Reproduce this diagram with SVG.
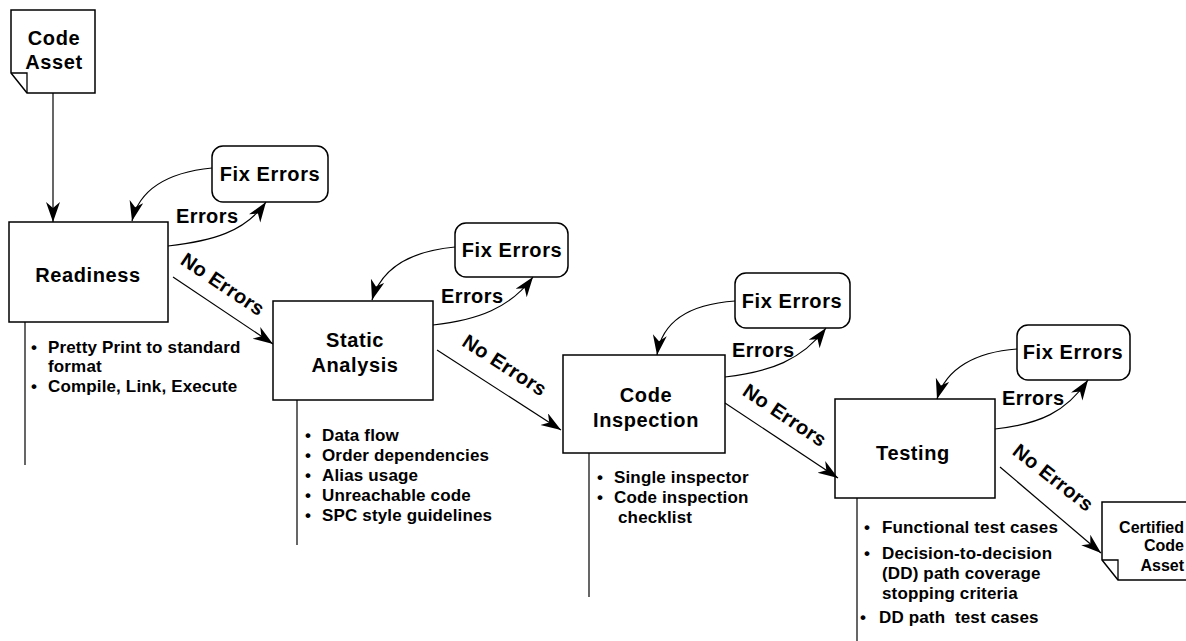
<svg xmlns="http://www.w3.org/2000/svg" width="1186" height="641" viewBox="0 0 1186 641">
  <style>
    .box { fill: #fff; stroke: #000; stroke-width: 1.5; }
    .fold { fill: none; stroke: #000; stroke-width: 1.3; }
    .conn { fill: none; stroke: #000; stroke-width: 1.2; }
    .lead { fill: none; stroke: #000; stroke-width: 1.2; }
    .t { font-family: "Liberation Sans", Arial, sans-serif; font-weight: bold; fill: #000; }
    .title { font-size: 20px; text-anchor: middle; letter-spacing: 0.6px; }
    .lbl { font-size: 20px; letter-spacing: 0.4px; }
    .note { font-size: 17px; letter-spacing: 0.15px; white-space: pre; }
    .doc { font-size: 16px; text-anchor: end; }
  </style>
  <defs>
    <marker id="arrow" markerUnits="userSpaceOnUse" markerWidth="22" markerHeight="16" refX="20" refY="7" orient="auto">
      <path d="M0,0 L20,7 L0,14 L6,7 Z" fill="#000"/>
    </marker>
  </defs>

  <!-- source document -->
  <g id="code-asset">
    <path class="box" d="M11,10 H95 V93 H27 L11,73 Z"/>
    <path class="fold" d="M11,73 H27 V93"/>
    <text class="t title" x="54" y="45">Code</text>
    <text class="t title" x="54" y="69">Asset</text>
  </g>

  <!-- stage 1 -->
  <g id="readiness">
    <rect class="box" x="9" y="222" width="159" height="100"/>
    <text class="t title" x="88" y="282">Readiness</text>
  </g>
  <g id="fix-errors-1">
    <rect class="box" x="212" y="146" width="116" height="56" rx="11"/>
    <text class="t title" x="270" y="181">Fix Errors</text>
  </g>
  <g id="readiness-notes">
    <path class="lead" d="M25,322 V465"/>
    <text class="t note" x="31" y="353">•</text>
    <text class="t note" x="48" y="353">Pretty Print to standard</text>
    <text class="t note" x="48" y="372">format</text>
    <text class="t note" x="31" y="392">•</text>
    <text class="t note" x="48" y="392">Compile, Link, Execute</text>
  </g>

  <!-- stage 2 -->
  <g id="static-analysis">
    <rect class="box" x="273" y="301" width="160" height="99"/>
    <text class="t title" x="355" y="347">Static</text>
    <text class="t title" x="355" y="372">Analysis</text>
  </g>
  <g id="fix-errors-2">
    <rect class="box" x="455" y="223" width="113" height="54" rx="11"/>
    <text class="t title" x="512" y="257">Fix Errors</text>
  </g>
  <g id="static-analysis-notes">
    <path class="lead" d="M297,400 V545"/>
    <text class="t note" x="305" y="441">•</text>
    <text class="t note" x="322" y="441">Data flow</text>
    <text class="t note" x="305" y="461">•</text>
    <text class="t note" x="322" y="461">Order dependencies</text>
    <text class="t note" x="305" y="481">•</text>
    <text class="t note" x="322" y="481">Alias usage</text>
    <text class="t note" x="305" y="501">•</text>
    <text class="t note" x="322" y="501">Unreachable code</text>
    <text class="t note" x="305" y="521">•</text>
    <text class="t note" x="322" y="521">SPC style guidelines</text>
  </g>

  <!-- stage 3 -->
  <g id="code-inspection">
    <rect class="box" x="563" y="355" width="162" height="98"/>
    <text class="t title" x="646" y="402">Code</text>
    <text class="t title" x="646" y="427">Inspection</text>
  </g>
  <g id="fix-errors-3">
    <rect class="box" x="735" y="273" width="115" height="55" rx="11"/>
    <text class="t title" x="792" y="308">Fix Errors</text>
  </g>
  <g id="code-inspection-notes">
    <path class="lead" d="M589,453 V597"/>
    <text class="t note" x="597" y="483">•</text>
    <text class="t note" x="614" y="483">Single inspector</text>
    <text class="t note" x="597" y="503">•</text>
    <text class="t note" x="614" y="503">Code inspection</text>
    <text class="t note" x="618" y="523">checklist</text>
  </g>

  <!-- stage 4 -->
  <g id="testing">
    <rect class="box" x="835" y="399" width="160" height="99"/>
    <text class="t title" x="913" y="460">Testing</text>
  </g>
  <g id="fix-errors-4">
    <rect class="box" x="1017" y="325" width="113" height="55" rx="11"/>
    <text class="t title" x="1073" y="359">Fix Errors</text>
  </g>
  <g id="testing-notes">
    <path class="lead" d="M857,498 V641"/>
    <text class="t note" x="864" y="533">•</text>
    <text class="t note" x="882" y="533">Functional test cases</text>
    <text class="t note" x="864" y="559">•</text>
    <text class="t note" x="882" y="559">Decision-to-decision</text>
    <text class="t note" x="882" y="579">(DD) path coverage</text>
    <text class="t note" x="882" y="599">stopping criteria</text>
    <text class="t note" x="860" y="623">•</text>
    <text class="t note" x="879" y="623" xml:space="preserve">DD path  test cases</text>
  </g>

  <!-- result document -->
  <g id="certified-code-asset">
    <path class="box" d="M1102,502 H1192 V580 H1118 L1102,560 Z"/>
    <path class="fold" d="M1102,560 H1118 V580"/>
    <text class="t doc" x="1184" y="533">Certified</text>
    <text class="t doc" x="1184" y="551">Code</text>
    <text class="t doc" x="1184" y="571">Asset</text>
  </g>

  <!-- flow connectors -->
  <g id="connectors">
    <path class="conn" d="M53,93 V222" marker-end="url(#arrow)"/>

    <path class="conn" d="M212,168 C172,172 140,186 132,221" marker-end="url(#arrow)"/>
    <path class="conn" d="M168,246 C212,241 245,232 266,202" marker-end="url(#arrow)"/>
    <path class="conn" d="M173,277 L273,344" marker-end="url(#arrow)"/>

    <path class="conn" d="M455,247 C412,251 382,266 372,300" marker-end="url(#arrow)"/>
    <path class="conn" d="M433,325 C478,320 510,308 533,277" marker-end="url(#arrow)"/>
    <path class="conn" d="M437,350 L561,430" marker-end="url(#arrow)"/>

    <path class="conn" d="M735,301 C692,304 662,320 657,355" marker-end="url(#arrow)"/>
    <path class="conn" d="M725,377 C770,372 802,360 826,328" marker-end="url(#arrow)"/>
    <path class="conn" d="M725,403 L838,478" marker-end="url(#arrow)"/>

    <path class="conn" d="M1017,349 C976,352 946,368 937,399" marker-end="url(#arrow)"/>
    <path class="conn" d="M995,429 C1040,424 1066,412 1088,380" marker-end="url(#arrow)"/>
    <path class="conn" d="M1000,467 L1101,553" marker-end="url(#arrow)"/>
  </g>

  <!-- connector labels -->
  <g id="connector-labels">
    <text class="t lbl" x="176" y="223">Errors</text>
    <text class="t lbl" x="441" y="303">Errors</text>
    <text class="t lbl" x="732" y="357">Errors</text>
    <text class="t lbl" x="1002" y="405">Errors</text>
    <text class="t lbl" text-anchor="middle" transform="translate(219,290) rotate(34)">No Errors</text>
    <text class="t lbl" text-anchor="middle" transform="translate(501,371) rotate(33)">No Errors</text>
    <text class="t lbl" text-anchor="middle" transform="translate(781,421) rotate(34)">No Errors</text>
    <text class="t lbl" text-anchor="middle" transform="translate(1049,483) rotate(38)">No Errors</text>
  </g>
</svg>
